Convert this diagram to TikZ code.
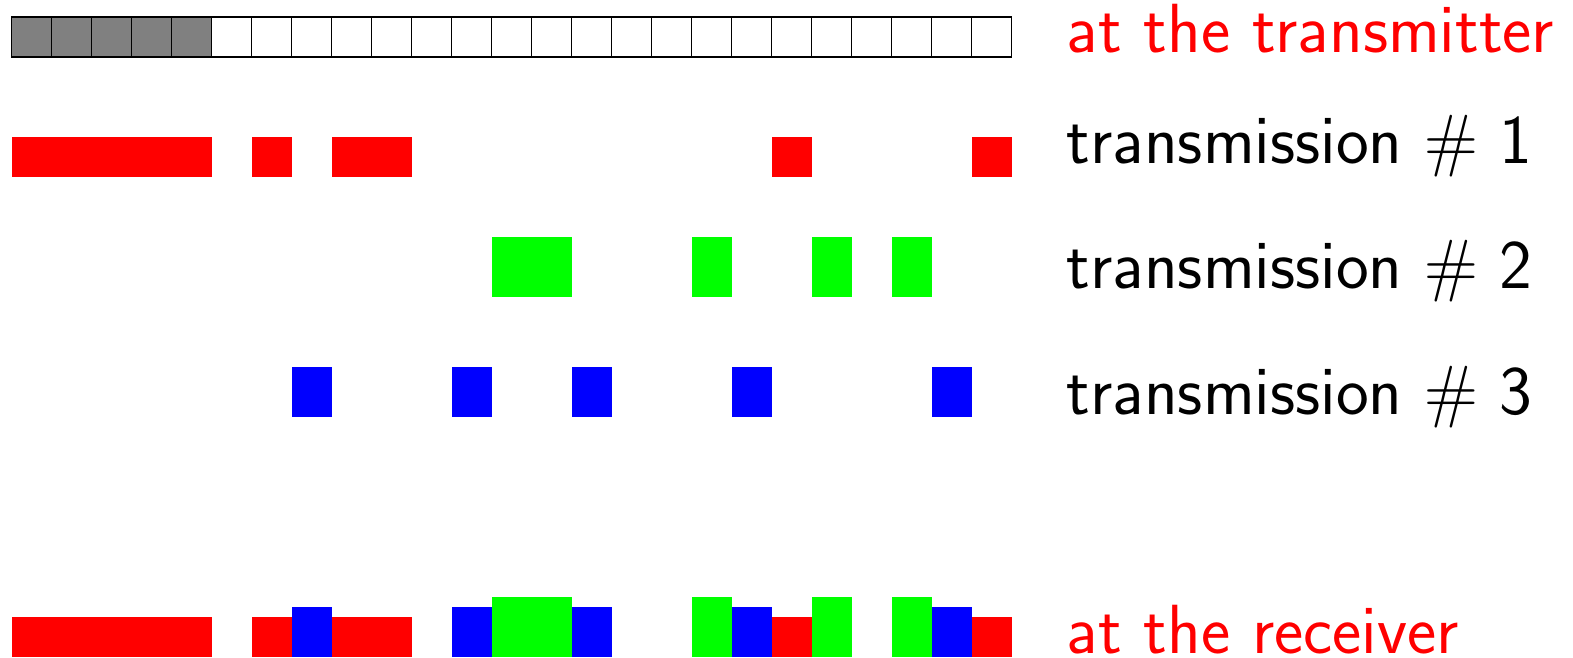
\RequirePackage{fix-cm}
\documentclass[tikz,border=0pt]{standalone}
\definecolor{pgreen}{RGB}{0,255,0}
\definecolor{pred}{RGB}{255,0,0}
\definecolor{pblue}{RGB}{0,0,255}
\begin{document}
\begin{tikzpicture}[x=1cm,y=1cm,
  lab/.style={anchor=base west,inner sep=0pt,font=\fontsize{49.5}{59}\selectfont\sffamily},
  cell/.style={draw=black,line width=0.9pt},
  r1/.style={fill=pred},
  r2/.style={fill=pgreen},
  r3/.style={fill=pblue}]
\useasboundingbox (-0.2925,0) rectangle (39.0325,16.425);
% transmitter grid
\foreach \i in {0,...,4} \filldraw[cell,fill=gray] (\i,15) rectangle ++(1,1);
\foreach \i in {5,...,24} \draw[cell] (\i,15) rectangle ++(1,1);
% transmission 1 (red)
\foreach \i in {0,1,2,3,4,6,8,9,19,24} \fill[r1] (\i,12) rectangle ++(1,1);
% transmission 2 (green)
\foreach \i in {12,13,17,20,22} \fill[r2] (\i,9) rectangle ++(1,1.5);
% transmission 3 (blue)
\foreach \i in {7,11,14,18,23} \fill[r3] (\i,6) rectangle ++(1,1.25);
% receiver
\foreach \i in {0,1,2,3,4,6,8,9,19,24} \fill[r1] (\i,0) rectangle ++(1,1);
\foreach \i in {7,11,14,18,23} \fill[r3] (\i,0) rectangle ++(1,1.25);
\foreach \i in {12,13,17,20,22} \fill[r2] (\i,0) rectangle ++(1,1.5);
% labels
\node[lab,text=pred] (ltx) at (26.375,15.1) {at the transmitter};
\node[lab] (l1) at (26.375,12.33) {transmission $\#$ 1};
\node[lab] (l2) at (26.375,9.22) {transmission $\#$ 2};
\node[lab] (l3) at (26.375,6.05) {transmission $\#$ 3};
\node[lab,text=pred] (lrx) at (26.375,0.1) {at the receiver};
\end{tikzpicture}
\end{document}
